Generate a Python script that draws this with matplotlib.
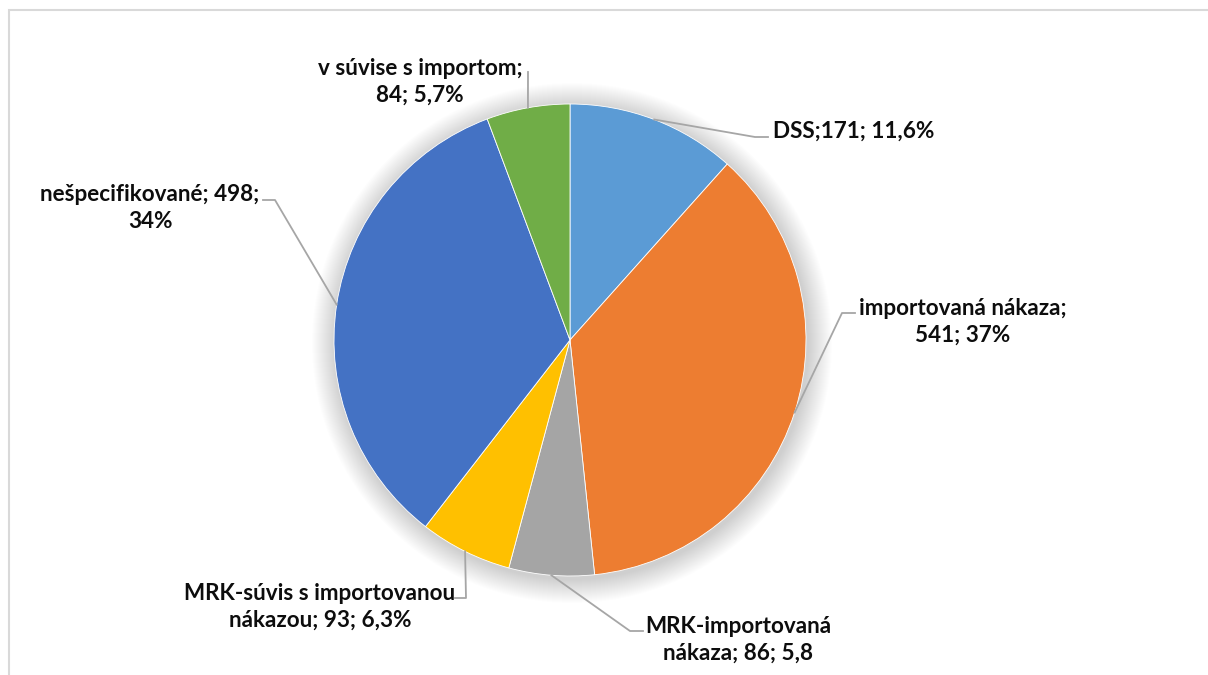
import numpy as np
import matplotlib
matplotlib.use("Agg")
import matplotlib.pyplot as plt
from matplotlib.patches import Circle, Rectangle

plt.rcParams["font.family"] = ["Lato", "DejaVu Sans"]

categories = ["DSS", "importovaná nákaza", "MRK-importovaná nákaza",
              "MRK-súvis s importovanou nákazou", "nešpecifikované",
              "v súvise s importom"]
counts = [171, 541, 86, 93, 498, 84]
labels = ["DSS;171; 11,6%",
          "importovaná nákaza;\n541; 37%",
          "MRK-importovaná\nnákaza; 86; 5,8",
          "MRK-súvis s importovanou\nnákazou; 93; 6,3%",
          "nešpecifikované; 498;\n34%",
          "v súvise s importom;\n84; 5,7%"]
colors = ["#5B9BD5", "#ED7D31", "#A5A5A5", "#FFC000", "#4472C4", "#70AD47"]

W, H = 1208, 675
fig = plt.figure(figsize=(W / 100, H / 100), dpi=100)
ax = fig.add_axes([0, 0, 1, 1])

cx, cy, r = 570, H - 340, 236

# soft shadow around the pie
for k in range(24):
    ax.add_patch(Circle((cx + 2, cy - 3), r + 24 - k, color="#000000",
                        alpha=0.009, lw=0, zorder=1))

wedges, _ = ax.pie(counts, colors=colors, startangle=90, counterclock=False,
                   center=(cx, cy), radius=r, frame=True,
                   wedgeprops=dict(edgecolor="white", linewidth=0.6, zorder=2))
ax.set_xlim(0, W)
ax.set_ylim(0, H)
ax.set_aspect("equal")
ax.axis("off")

# light chart frame (only top and left visible in the crop)
ax.add_patch(Rectangle((9, -20), W + 40, H - 10 + 20, fill=False,
                       ec="#D9D9D9", lw=1.5))

# (elbow point, end of horizontal segment, text position, alignment) in px, y down
layout = [
    ((755, 137), (768, 137), (773, 131), "left"),
    ((842, 313), (855, 313), (963, 322), "center"),
    ((630, 631), (643, 631), (738, 640), "center"),
    ((466, 598), (455, 598), (320, 607), "center"),
    ((275, 200), (263, 200), (150, 208), "center"),
    ((528, 72), (528, 72), (420, 82), "center"),
]

for w, lab, (elbow, end, tpos, ha) in zip(wedges, labels, layout):
    mid = np.deg2rad((w.theta1 + w.theta2) / 2)
    sx, sy = cx + r * np.cos(mid), cy + r * np.sin(mid)
    xs = [sx, elbow[0], end[0]]
    ys = [sy, H - elbow[1], H - end[1]]
    ax.plot(xs, ys, color="#A6A6A6", lw=1.3, zorder=3)
    ax.text(tpos[0], H - tpos[1], lab, ha=ha, va="center", fontsize=16.2,
            fontweight="bold", color="#0D0D0D", linespacing=1.32, zorder=4)

fig.savefig("out.png", dpi=100)
